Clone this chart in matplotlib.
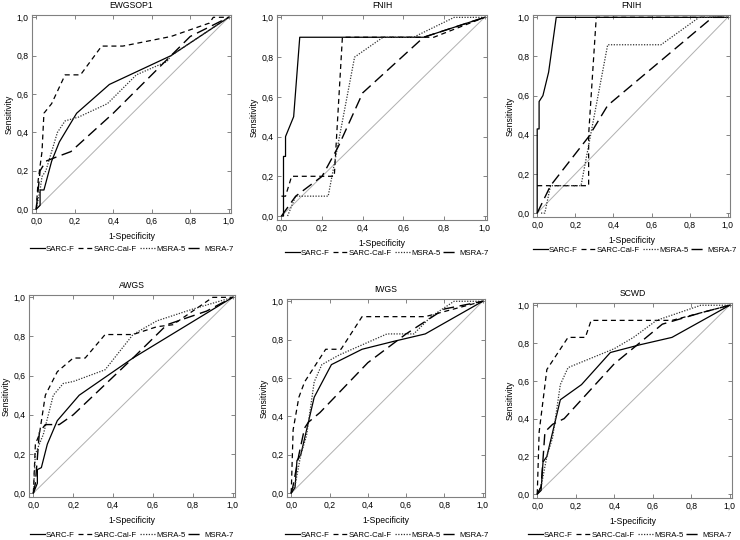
import matplotlib
matplotlib.use("Agg")
import matplotlib.pyplot as plt
from matplotlib.ticker import FuncFormatter

plt.rcParams['font.family'] = ['Liberation Sans', 'DejaVu Sans']

series_names = ["SARC-F", "SARC-Cal-F", "MSRA-5", "MSRA-7"]
panel_titles = ["EWGSOP1", "FNIH", "FNIH", "AWGS", "IWGS", "SCWD"]
tick_values = [0.0, 0.2, 0.4, 0.6, 0.8, 1.0]

# ROC points (1-specificity, sensitivity)
ewgsop1_sarcf = [(0, 0), (0.02, 0.02), (0.02, 0.1), (0.04, 0.1), (0.08, 0.25), (0.12, 0.35),
                 (0.21, 0.5), (0.38, 0.65), (0.7, 0.8), (1, 1)]
ewgsop1_cal = [(0, 0), (0.01, 0.15), (0.03, 0.3), (0.04, 0.5), (0.08, 0.55), (0.15, 0.7),
               (0.23, 0.7), (0.34, 0.85), (0.45, 0.85), (0.7, 0.9), (0.9, 0.97), (0.92, 1.0),
               (0.95, 1.0), (1, 1)]
ewgsop1_msra5 = [(0, 0), (0.02, 0.1), (0.03, 0.17), (0.05, 0.2), (0.08, 0.3), (0.11, 0.4),
                 (0.15, 0.46), (0.22, 0.48), (0.37, 0.55), (0.52, 0.7), (0.68, 0.77),
                 (0.7, 0.8), (1, 1)]
ewgsop1_msra7 = [(0, 0), (0.01, 0.1), (0.02, 0.2), (0.05, 0.25), (0.1, 0.27), (0.18, 0.3),
                 (0.4, 0.5), (0.68, 0.78), (0.8, 0.9), (1, 1)]

fnih1_sarcf = [(0, 0), (0.01, 0), (0.01, 0.3), (0.02, 0.3), (0.02, 0.4), (0.06, 0.5),
               (0.09, 0.9), (0.7, 0.9), (1, 1)]
fnih1_cal = [(0, 0.1), (0.02, 0.1), (0.05, 0.2), (0.26, 0.2), (0.3, 0.9), (0.75, 0.9), (1, 1)]
fnih1_msra5 = [(0.03, 0), (0.07, 0.1), (0.23, 0.1), (0.36, 0.8), (0.5, 0.9), (0.65, 0.9),
               (0.85, 1.0), (0.9, 1.0), (1, 1)]
fnih1_msra7 = [(0, 0), (0.07, 0.1), (0.2, 0.2), (0.28, 0.35), (0.4, 0.62), (0.7, 0.9), (1, 1)]

fnih2_sarcf = [(0, 0), (0, 0.43), (0.01, 0.43), (0.01, 0.57), (0.03, 0.6), (0.06, 0.72),
               (0.1, 1.0), (1, 1)]
fnih2_cal = [(0, 0.14), (0.27, 0.14), (0.27, 0.4), (0.31, 1.0), (1, 1)]
fnih2_msra5 = [(0.02, 0), (0.04, 0), (0.07, 0.14), (0.23, 0.14), (0.37, 0.86), (0.65, 0.86),
               (0.85, 1.0), (1, 1)]
fnih2_msra7 = [(0, 0), (0.07, 0.14), (0.27, 0.39), (0.37, 0.55), (0.92, 1.0), (1, 1)]

awgs_sarcf = [(0, 0), (0.02, 0.05), (0.02, 0.12), (0.04, 0.13), (0.07, 0.25), (0.12, 0.37),
              (0.23, 0.5), (0.5, 0.69), (1, 1)]
awgs_cal = [(0, 0), (0.01, 0.25), (0.03, 0.3), (0.06, 0.5), (0.12, 0.62), (0.2, 0.69),
            (0.26, 0.69), (0.36, 0.81), (0.5, 0.81), (0.62, 0.85), (0.7, 0.86), (0.9, 1.0),
            (1, 1)]
awgs_msra5 = [(0, 0), (0.01, 0.2), (0.05, 0.3), (0.1, 0.5), (0.15, 0.56), (0.2, 0.57),
              (0.36, 0.63), (0.5, 0.81), (0.62, 0.88), (0.8, 0.94), (1, 1)]
awgs_msra7 = [(0, 0), (0.01, 0.05), (0.03, 0.31), (0.06, 0.35), (0.13, 0.35), (0.2, 0.4),
              (0.5, 0.69), (0.67, 0.86), (0.87, 0.93), (1, 1)]

iwgs_sarcf = [(0, 0), (0.02, 0.03), (0.03, 0.17), (0.05, 0.2), (0.12, 0.5), (0.21, 0.67),
              (0.37, 0.75), (0.53, 0.79), (0.7, 0.83), (1, 1)]
iwgs_cal = [(0, 0), (0.01, 0.33), (0.04, 0.5), (0.07, 0.58), (0.18, 0.75), (0.26, 0.75),
            (0.37, 0.92), (0.7, 0.92), (0.85, 0.96), (1, 1)]
iwgs_msra5 = [(0, 0), (0.02, 0.04), (0.05, 0.2), (0.08, 0.3), (0.12, 0.58), (0.16, 0.67),
              (0.25, 0.72), (0.5, 0.83), (0.64, 0.83), (0.73, 0.92), (0.85, 1.0), (1, 1)]
iwgs_msra7 = [(0, 0), (0.01, 0.04), (0.04, 0.2), (0.07, 0.34), (0.09, 0.37), (0.15, 0.42),
              (0.4, 0.68), (0.6, 0.83), (0.8, 0.96), (1, 1)]

scwd_sarcf = [(0, 0), (0.02, 0.02), (0.03, 0.17), (0.05, 0.2), (0.12, 0.5), (0.23, 0.58),
              (0.38, 0.75), (0.53, 0.79), (0.7, 0.83), (1, 1)]
scwd_cal = [(0, 0), (0.01, 0.33), (0.05, 0.66), (0.16, 0.83), (0.25, 0.83), (0.28, 0.92),
            (0.7, 0.92), (0.85, 0.96), (1, 1)]
scwd_msra5 = [(0, 0), (0.02, 0.04), (0.05, 0.2), (0.08, 0.3), (0.12, 0.58), (0.16, 0.67),
              (0.4, 0.77), (0.5, 0.83), (0.62, 0.92), (0.85, 1.0), (1, 1)]
scwd_msra7 = [(0, 0), (0.02, 0.04), (0.04, 0.33), (0.08, 0.37), (0.14, 0.4), (0.4, 0.69),
              (0.65, 0.9), (0.85, 0.96), (1, 1)]

panels = [
    [ewgsop1_sarcf, ewgsop1_cal, ewgsop1_msra5, ewgsop1_msra7],
    [fnih1_sarcf, fnih1_cal, fnih1_msra5, fnih1_msra7],
    [fnih2_sarcf, fnih2_cal, fnih2_msra5, fnih2_msra7],
    [awgs_sarcf, awgs_cal, awgs_msra5, awgs_msra7],
    [iwgs_sarcf, iwgs_cal, iwgs_msra5, iwgs_msra7],
    [scwd_sarcf, scwd_cal, scwd_msra5, scwd_msra7],
]

# axes boxes in pixels: left, top, right, bottom
boxes = [
    (32, 15, 231, 213),
    (277, 15, 487, 220),
    (533, 15, 730, 217),
    (29, 295, 235, 497),
    (287, 299, 485, 497),
    (533, 303, 732, 498),
]
# legend left edge and vertical centre in pixels
legend_pos = [(30, 249), (285, 253), (533, 250), (30, 535), (285, 535), (528, 535)]

styles = [
    dict(linestyle='-', color='black', linewidth=0.9),
    dict(linestyle=(0, (4, 3)), color='black', linewidth=0.9),
    dict(linestyle=(0, (1, 1.2)), color='#333333', linewidth=0.9),
    dict(linestyle=(0, (8, 4)), color='black', linewidth=1.0),
]

W, H = 740, 540
fig = plt.figure(figsize=(W / 100, H / 100), dpi=100)
fig.patch.set_facecolor('white')

comma = FuncFormatter(lambda v, p: f"{v:.1f}".replace('.', ','))

for title, curves, (l, t, r, b), (lx, ly) in zip(panel_titles, panels, boxes, legend_pos):
    ax = fig.add_axes([l / W, 1 - b / H, (r - l) / W, (b - t) / H])
    ax.plot([0, 1], [0, 1], color='#b0b0b0', linewidth=0.7)
    for pts, st, name in zip(curves, styles, series_names):
        xs = [p[0] for p in pts]
        ys = [p[1] for p in pts]
        ax.plot(xs, ys, label=name, **st)
    ax.set_xlim(-0.022, 1.012)
    ax.set_ylim(-0.02, 1.012)
    ax.set_xticks(tick_values)
    ax.set_yticks(tick_values)
    ax.xaxis.set_major_formatter(comma)
    ax.yaxis.set_major_formatter(comma)
    ax.tick_params(direction='in', length=3, width=0.6, color='#707070', labelsize=6.2,
                   top=True, right=True, pad=2.5)
    for sp in ax.spines.values():
        sp.set_color('#808080')
        sp.set_linewidth(0.8)
    ax.set_title(title, fontsize=6.2, pad=5)
    ax.set_xlabel("1-Specificity", fontsize=6.2, labelpad=5)
    ax.set_ylabel("Sensitivity", fontsize=6.2, labelpad=2)
    ax.legend(loc='center left', bbox_to_anchor=(lx / W, 1 - ly / H),
              bbox_transform=fig.transFigure, ncol=4, frameon=False,
              fontsize=5.6, handlelength=1.9, handletextpad=0.15, columnspacing=0.4,
              borderaxespad=0, borderpad=0)

fig.savefig("out.png", dpi=100, facecolor='white')
